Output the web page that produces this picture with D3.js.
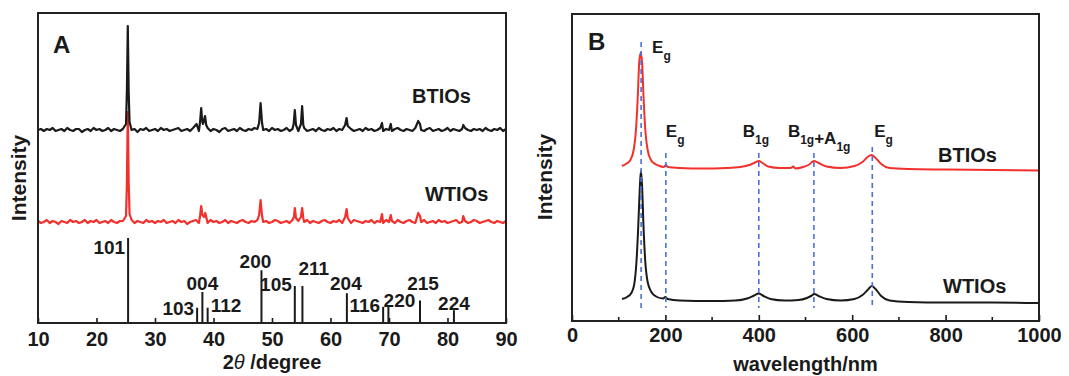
<!DOCTYPE html>
<html>
<head>
<meta charset="utf-8">
<script src="https://cdnjs.cloudflare.com/ajax/libs/d3/7.8.5/d3.min.js"></script>
<style>
    html, body { margin: 0; padding: 0; background: #fff; }
    svg { display: block; font-family: Arial, 'Liberation Sans', Helvetica, sans-serif; font-weight: bold; }
</style>
</head>
<body>
<svg width="1069" height="376"></svg>
<script>
// ---------- panel A: XRD ----------
var xrdTicks = [10, 20, 30, 40, 50, 60, 70, 80, 90];

// baseline noise, one value every 0.5 degree from 10 to 90
var btioNoise = [
    0, 1, -1, 1, 0, 2, -1, 0, 1, -1, 2, 0, -1, 1, 1, -2, 0, 1, -1, 2,
    0, 1, -1, 0, 2, -1, 1, 0, -1, 1, 2, -1, 0, 1, -2, 1, 0, 2, -1, 0,
    1, -1, 2, 0, 1, -1, 0, 1, 2, -1, 0, 1, -1, 2, 0, -1, 1, 0, 2, -1,
    1, 0, -2, 1, 2, -1, 0, 1, -1, 2, 0, -1, 1, 0, 2, 1, -1, 0, 1, -1,
    2, 0, 1, -1, 0, 2, -1, 1, 0, -1, 1, 2, -1, 0, 1, -1, 2, 0, -1, 1,
    0, 2, -1, 1, 0, -1, 2, 1, -1, 0, 1, -1, 2, 0, 1, -1, 0, 2, -1, 1,
    0, -1, 1, 2, 0, -1, 1, 0, -1, 2, 1, 0, -1, 1, 2, -1, 0, 1, -1, 0,
    2, -1, 1, 0, -1, 1, 2, 0, -1, 1, 0, 1, -1, 2, 0, -1, 1, 0, 2, -1,
    1
];
var wtioNoise = [
    1, -1, 0, 2, -1, 1, 0, -2, 1, 0, -1, 2, 0, 1, -1, 0, 2, -1, 1, 0,
    2, -1, 0, 1, -1, 2, 0, -1, 1, 1, -1, 0, 2, -1, 1, 0, -1, 2, 0, 1,
    -1, 1, 0, 2, -1, 0, 1, -1, 2, 0, 1, -2, 0, 1, 2, -1, 0, 1, -1, 2,
    0, 1, -1, 0, 2, -1, 1, 0, -1, 1, 2, 0, -1, 1, 0, 2, -1, 0, 1, -1,
    0, 2, 1, -1, 0, 1, -1, 2, 0, 1, -1, 0, 2, -1, 1, 0, -1, 1, 2, 0,
    -1, 1, 0, 2, -1, 0, 1, -1, 2, 1, 0, -1, 1, 0, 2, -1, 1, 0, -1, 2,
    0, 1, -1, 2, 0, -1, 1, 2, 0, -1, 1, 0, 2, -1, 0, 1, -1, 2, 0, 1,
    -1, 0, 1, 2, -1, 0, 1, -1, 0, 2, 1, -1, 0, 1, 2, 0, -1, 1, 0, -1,
    1
];

// points on the diffraction peaks [2theta, intensity]
var btioPeaks = [
    [25.05, 6], [25.2, 40], [25.35, 104], [25.5, 38], [25.65, 8],
    [37.1, 6],
    [37.7, 8], [37.9, 22], [38.05, 10], [38.2, 6], [38.35, 9], [38.55, 14], [38.75, 5],
    [47.8, 7], [48.05, 27], [48.3, 7],
    [53.7, 6], [53.9, 20], [54.1, 5],
    [54.95, 6], [55.15, 24], [55.35, 5],
    [62.5, 5], [62.75, 12], [62.95, 4],
    [68.8, 7], [70.3, 6],
    [75.0, 9], [75.3, 6],
    [82.7, 5]
];
var wtioPeaks = [
    [25.05, 6], [25.2, 40], [25.35, 110], [25.5, 40], [25.65, 8],
    [37.7, 6], [37.9, 16], [38.1, 7], [38.4, 5], [38.6, 9], [38.8, 4],
    [47.8, 7], [48.05, 22], [48.3, 6],
    [53.75, 5], [53.9, 14], [54.1, 4],
    [54.95, 5], [55.15, 14], [55.35, 4],
    [62.5, 5], [62.75, 13], [62.95, 4],
    [68.8, 8], [70.3, 7],
    [75.0, 9], [75.3, 6],
    [82.7, 6]
];

// reference pattern (anatase)
var hklLabels = ['101', '103', '004', '112', '200', '105', '211', '204', '116', '220', '215', '224'];
var hklAngles = [25.4, 37.2, 38.1, 39.0, 48.2, 53.9, 55.2, 62.8, 69.0, 69.9, 75.3, 81.1];
var hklIntensity = [100, 18, 36.5, 18, 62, 43.5, 43.5, 35, 19, 19, 26.5, 15];

// ---------- panel B: Raman ----------
var ramanTicks = [0, 200, 400, 600, 800, 1000];
var ramanMinorTicks = [100, 300, 500, 700, 900];

var btioRaman = [
    [107, 155], [115, 157], [125, 161], [132, 171], [137, 191], [141, 226], [144, 259],
    [147, 268], [150, 259], [153, 226], [157, 191], [162, 171], [168, 162], [175, 158],
    [185, 155.5], [197, 154], [201, 156], [205, 154], [230, 153], [280, 152.5], [330, 153],
    [360, 154], [380, 156], [392, 158.5], [400, 160], [408, 158], [420, 154.5], [445, 153],
    [468, 153], [474, 154.5], [478, 152.5], [495, 154], [508, 156.5], [518, 160], [528, 158],
    [545, 154.5], [575, 153], [605, 155], [622, 159], [633, 164], [641, 166], [650, 163],
    [662, 157], [680, 153], [720, 152], [800, 151.5], [900, 151], [1000, 150.5]
];
var wtioRaman = [
    [107, 22], [118, 24], [127, 28], [133, 36], [138, 59], [142, 96], [145, 131],
    [147.5, 150], [150, 136], [153, 96], [157, 59], [162, 39], [170, 29], [180, 24.5],
    [195, 22.5], [200, 24], [205, 22], [230, 20.5], [300, 20], [350, 20.5], [375, 22.5],
    [390, 25.5], [400, 27.5], [410, 25], [425, 22], [455, 20.5], [485, 21], [503, 23],
    [512, 25], [519, 27], [528, 25], [545, 22], [575, 20.5], [605, 22], [622, 26],
    [633, 31], [642, 35], [650, 32], [662, 25], [680, 20.5], [720, 19], [800, 18.5],
    [900, 18.5], [1000, 18]
];

var modeShifts = [148, 201, 400, 518, 643];
var modeNames = [
    [['E', 'g']],
    [['E', 'g']],
    [['B', '1g']],
    [['B', '1g'], ['+A', '1g']],
    [['E', 'g']]
];

(function () {
    var svg = d3.select('svg');
    var ink = '#1a1a1a';
    var red = '#f2302c';
    var blue = '#4a70d8';

    // frames of the two panels
    var boxA = {left: 38, right: 506, top: 13, bottom: 323};
    var boxB = {left: 572, right: 1039, top: 14, bottom: 321};

    svg.append('rect').attr('width', 1069).attr('height', 376).attr('fill', '#fff');

    drawPanelA();
    drawPanelB();

    /**
     * XRD panel
     */
    function drawPanelA() {
        var x = d3.scaleLinear().domain([10, 90]).range([boxA.left, boxA.right]);
        var y = d3.scaleLinear().domain([0, 310]).range([boxA.bottom, boxA.top]);
        var yStick = d3.scaleLinear().domain([0, 100]).range([boxA.bottom, 238]);
        var g = svg.append('g');

        var offsetB = 193;
        var offsetW = 101;

        var line = function (offset) {
            return d3.line()
                .x(function (d) { return x(d[0]); })
                .y(function (d) { return y(d[1] + offset); });
        };

        g.append('path')
            .datum(buildTrace(wtioNoise, wtioPeaks))
            .attr('d', line(offsetW))
            .attr('fill', 'none')
            .attr('stroke', red)
            .attr('stroke-width', 2.2)
            .attr('stroke-linejoin', 'round');

        g.append('path')
            .datum(buildTrace(btioNoise, btioPeaks))
            .attr('d', line(offsetB))
            .attr('fill', 'none')
            .attr('stroke', ink)
            .attr('stroke-width', 2.2)
            .attr('stroke-linejoin', 'round');

        // reference sticks
        g.selectAll('line.stick')
            .data(hklAngles)
            .enter()
            .append('line')
            .attr('class', 'stick')
            .attr('x1', function (d) { return x(d); })
            .attr('x2', function (d) { return x(d); })
            .attr('y1', yStick(0))
            .attr('y2', function (d, i) { return yStick(hklIntensity[i]); })
            .attr('stroke', ink)
            .attr('stroke-width', 2);

        // label placement next to each stick
        var hklPlace = [
            ['end', -3, 254], ['end', -3, 315], ['middle', 0, 290], ['start', 3, 312],
            ['middle', -6, 268], ['end', -3, 291], ['start', -4, 275], ['middle', -1, 290],
            ['end', -3, 312], ['middle', 11, 307], ['middle', 3, 290], ['middle', 0, 310]
        ];
        g.selectAll('text.hkl')
            .data(hklLabels)
            .enter()
            .append('text')
            .attr('class', 'hkl')
            .attr('x', function (d, i) { return x(hklAngles[i]) + hklPlace[i][1]; })
            .attr('y', function (d, i) { return hklPlace[i][2]; })
            .attr('text-anchor', function (d, i) { return hklPlace[i][0]; })
            .style('font-size', '19px')
            .attr('fill', ink)
            .text(function (d) { return d; });

        var axis = g.append('g')
            .attr('transform', 'translate(0,' + boxA.bottom + ')')
            .call(d3.axisBottom(x).tickValues(xrdTicks).tickFormat(d3.format('d'))
                .tickSizeInner(-5).tickSizeOuter(0).tickPadding(9));
        styleAxis(axis);

        frame(g, boxA);

        g.append('text')
            .attr('x', 53).attr('y', 53)
            .style('font-size', '24px')
            .attr('fill', ink)
            .text('A');

        g.append('text').attr('x', 412).attr('y', 103).style('font-size', '20px').attr('fill', ink).text('BTIOs');
        g.append('text').attr('x', 425).attr('y', 201).style('font-size', '20px').attr('fill', ink).text('WTIOs');

        var title = g.append('text')
            .attr('x', (boxA.left + boxA.right) / 2)
            .attr('y', 369)
            .attr('text-anchor', 'middle')
            .style('font-size', '20px')
            .attr('fill', ink);
        title.append('tspan').text('2');
        title.append('tspan').style('font-style', 'italic').style('font-weight', 'normal').text('\u03b8 ');
        title.append('tspan').text('/degree');

        yTitle(g, 26, 178);
    }

    /**
     * Raman panel
     */
    function drawPanelB() {
        var x = d3.scaleLinear().domain([0, 1000]).range([boxB.left, boxB.right]);
        var y = d3.scaleLinear().domain([0, 307]).range([boxB.bottom, boxB.top]);
        var g = svg.append('g');

        var line = d3.line()
            .x(function (d) { return x(d[0]); })
            .y(function (d) { return y(d[1]); })
            .curve(d3.curveMonotoneX);

        g.append('path')
            .datum(wtioRaman)
            .attr('d', line)
            .attr('fill', 'none')
            .attr('stroke', ink)
            .attr('stroke-width', 2);

        g.append('path')
            .datum(btioRaman)
            .attr('d', line)
            .attr('fill', 'none')
            .attr('stroke', red)
            .attr('stroke-width', 2);

        // dashed mode markers, top ends in pixels
        var modeTop = [42, 153, 153, 153, 147];
        g.selectAll('line.mode')
            .data(modeShifts)
            .enter()
            .append('line')
            .attr('class', 'mode')
            .attr('x1', function (d) { return x(d); })
            .attr('x2', function (d) { return x(d); })
            .attr('y1', function (d, i) { return modeTop[i]; })
            .attr('y2', 308)
            .attr('stroke', blue)
            .attr('stroke-width', 1.6)
            .attr('stroke-dasharray', '5,4');

        // mode labels: [dx from marker, baseline]
        var modePlace = [[11, 53], [0, 137], [-16, 137], [-26, 137], [2, 137]];
        modeNames.forEach(function (parts, i) {
            var t = g.append('text')
                .attr('x', x(modeShifts[i]) + modePlace[i][0])
                .attr('y', modePlace[i][1])
                .style('font-size', '17px')
                .attr('fill', ink);
            parts.forEach(function (p) {
                t.append('tspan').attr('dy', 0).text(p[0]);
                t.append('tspan').attr('dy', 7).style('font-size', '12px').text(p[1]);
                t.append('tspan').attr('dy', -7).text('');
            });
        });

        var axis = g.append('g')
            .attr('transform', 'translate(0,' + boxB.bottom + ')')
            .call(d3.axisBottom(x).tickValues(ramanTicks).tickFormat(d3.format('d'))
                .tickSizeInner(-6).tickSizeOuter(0).tickPadding(7));
        styleAxis(axis);

        g.append('g')
            .attr('transform', 'translate(0,' + boxB.bottom + ')')
            .selectAll('line')
            .data(ramanMinorTicks)
            .enter()
            .append('line')
            .attr('x1', function (d) { return x(d); })
            .attr('x2', function (d) { return x(d); })
            .attr('y1', 0)
            .attr('y2', -4)
            .attr('stroke', ink)
            .attr('stroke-width', 1.6);

        frame(g, boxB);

        g.append('text')
            .attr('x', 588).attr('y', 50)
            .style('font-size', '24px')
            .attr('fill', ink)
            .text('B');

        g.append('text').attr('x', 938).attr('y', 162).style('font-size', '20px').attr('fill', ink).text('BTIOs');
        g.append('text').attr('x', 943).attr('y', 293).style('font-size', '20px').attr('fill', ink).text('WTIOs');

        g.append('text')
            .attr('x', (boxB.left + boxB.right) / 2)
            .attr('y', 371)
            .attr('text-anchor', 'middle')
            .style('font-size', '20px')
            .attr('fill', ink)
            .text('wavelength/nm');

        yTitle(g, 552, 177);
    }

    /**
     * Merge the baseline noise with the peak points, sorted by angle
     */
    function buildTrace(noise, peaks) {
        var pts = noise.map(function (v, i) { return [10 + i * 0.5, v]; })
            .filter(function (p) {
                return !peaks.some(function (q) { return Math.abs(q[0] - p[0]) < 0.12; });
            });
        return pts.concat(peaks).sort(function (a, b) { return a[0] - b[0]; });
    }

    function styleAxis(axis) {
        axis.select('.domain').remove();
        axis.selectAll('line').attr('stroke', ink).attr('stroke-width', 1.6);
        axis.selectAll('text')
            .attr('fill', ink)
            .style('font-size', '20px')
            .style('font-weight', 'bold')
            .style('font-family', "Arial, 'Liberation Sans', Helvetica, sans-serif");
    }

    function frame(g, b) {
        g.append('rect')
            .attr('x', b.left)
            .attr('y', b.top)
            .attr('width', b.right - b.left)
            .attr('height', b.bottom - b.top)
            .attr('fill', 'none')
            .attr('stroke', '#222')
            .attr('stroke-width', 2);
    }

    function yTitle(g, x, yc) {
        g.append('text')
            .attr('transform', 'translate(' + x + ',' + yc + ') rotate(-90)')
            .attr('text-anchor', 'middle')
            .style('font-size', '21px')
            .attr('fill', ink)
            .text('Intensity');
    }
}());
</script>
</body>
</html>
